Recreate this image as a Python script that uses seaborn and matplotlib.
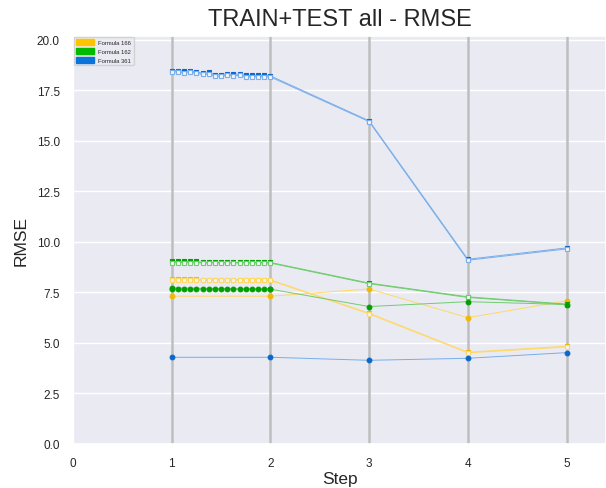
import matplotlib
matplotlib.use("Agg")
import matplotlib.pyplot as plt
from matplotlib.patches import Patch
import seaborn as sns

# x positions
steps = [1, 2, 3, 4, 5]
dense_steps = [1.0, 1.0625, 1.125, 1.1875, 1.25, 1.3125, 1.375, 1.4375, 1.5,
               1.5625, 1.625, 1.6875, 1.75, 1.8125, 1.875, 1.9375, 2.0,
               3, 4, 5]
sub_steps = dense_steps[:17]

formulas = ["Formula 166", "Formula 162", "Formula 361"]

# Formula 166 (yellow)
f166_sq = [8.17, 8.17, 8.17, 8.17, 8.17, 8.13, 8.13, 8.13, 8.13, 8.13, 8.13,
           8.13, 8.13, 8.13, 8.13, 8.13, 8.12, 6.47, 4.54, 4.84]
f166_sq_test = [8.12, 8.12, 8.12, 8.12, 8.12, 8.10, 8.10, 8.10, 8.10, 8.10,
                8.10, 8.10, 8.10, 8.10, 8.10, 8.10, 8.09, 6.44, 4.51, 4.80]
f166_circ = [7.31, 7.31, 7.67, 6.25, 7.08]

# Formula 162 (green)
f162_sq = [9.03, 9.03, 9.03, 9.03, 9.03, 8.98, 8.98, 8.98, 8.98, 8.98, 8.98,
           8.98, 8.98, 8.98, 8.98, 8.98, 8.98, 7.96, 7.28, 6.92]
f162_sq_test = [8.97, 8.97, 8.97, 8.97, 8.97, 8.96, 8.96, 8.96, 8.96, 8.96,
                8.96, 8.96, 8.96, 8.96, 8.96, 8.96, 8.95, 7.93, 7.25, 6.90]
f162_circ = [7.72, 7.66, 6.80, 7.04, 6.90]
f162_circ_sub = [7.67, 7.66, 7.66, 7.66, 7.66, 7.66, 7.66, 7.66, 7.66, 7.66,
                 7.66, 7.66, 7.66, 7.66, 7.66, 7.66, 7.66]

# Formula 361 (blue)
f361_sq = [18.47, 18.47, 18.44, 18.47, 18.41, 18.35, 18.38, 18.27, 18.27,
           18.31, 18.28, 18.31, 18.23, 18.23, 18.23, 18.23, 18.21,
           15.99, 9.14, 9.70]
f361_sq_test = [18.41, 18.41, 18.37, 18.41, 18.34, 18.28, 18.31, 18.20, 18.20,
                18.24, 18.22, 18.24, 18.17, 18.17, 18.17, 18.17, 18.16,
                15.95, 9.09, 9.65]
f361_circ = [4.29, 4.29, 4.14, 4.24, 4.52]

# (line colour, marker colour, legend colour)
colors = {
    "Formula 166": ("#FFD966", "#F2B800", "#FFC400"),
    "Formula 162": ("#70CC70", "#00A000", "#00BB00"),
    "Formula 361": ("#78AEEA", "#0A68CC", "#0A74DA"),
}

sns.set_theme(style="darkgrid")
plt.rcParams["font.family"] = ["Liberation Sans", "DejaVu Sans"]

fig = plt.figure(figsize=(6.06, 4.89), dpi=100)
ax = fig.add_axes([0.1205, 0.09, 0.8795, 0.835])

for s in steps:
    ax.axvline(s, color="#BEBEBE", lw=1.8, zorder=1)


def draw(x, y, name, marker, hollow=False):
    line_c, mark_c, _ = colors[name]
    if hollow:
        mfc, mec, ls = "#F4F4F8", line_c, "-"
    else:
        mfc, mec, ls = mark_c, mark_c, "-"
    sns.lineplot(x=x, y=y, ax=ax, color=line_c, lw=0.7, ls=ls, marker=marker,
                 markersize=3.4, markerfacecolor=mfc, markeredgecolor=mec,
                 markeredgewidth=0.8, errorbar=None, zorder=3)


draw(dense_steps, f166_sq, "Formula 166", "s")
draw(dense_steps, f166_sq_test, "Formula 166", "s", hollow=True)
draw(steps, f166_circ, "Formula 166", "o")

draw(dense_steps, f162_sq, "Formula 162", "s")
draw(dense_steps, f162_sq_test, "Formula 162", "s", hollow=True)
draw(steps, f162_circ, "Formula 162", "o")
draw(sub_steps, f162_circ_sub, "Formula 162", "o")

draw(dense_steps, f361_sq, "Formula 361", "s")
draw(dense_steps, f361_sq_test, "Formula 361", "s", hollow=True)
draw(steps, f361_circ, "Formula 361", "o")

ax.set_xlim(0, 5.4)
ax.set_ylim(0, 20.2)
ax.set_xticks([0, 1, 2, 3, 4, 5])
ax.set_yticks([0, 2.5, 5, 7.5, 10, 12.5, 15, 17.5, 20])
ax.set_yticklabels([f"{v:.1f}" for v in [0, 2.5, 5, 7.5, 10, 12.5, 15, 17.5, 20]])
ax.tick_params(labelsize=8.5, colors="#262626")

ax.set_title("TRAIN+TEST all - RMSE", fontsize=17, color="#262626", pad=8)
ax.set_xlabel("Step", fontsize=12.5, color="#262626", labelpad=1)
ax.set_ylabel("RMSE", fontsize=12.5, color="#262626", labelpad=6)

handles = [Patch(color=colors[f][2], label=f) for f in formulas]
ax.legend(handles=handles, loc="upper left", fontsize=4.2, frameon=True,
          borderaxespad=0.15, handlelength=3, handleheight=1.2,
          framealpha=0.8)

fig.savefig("out.png", dpi=100)
